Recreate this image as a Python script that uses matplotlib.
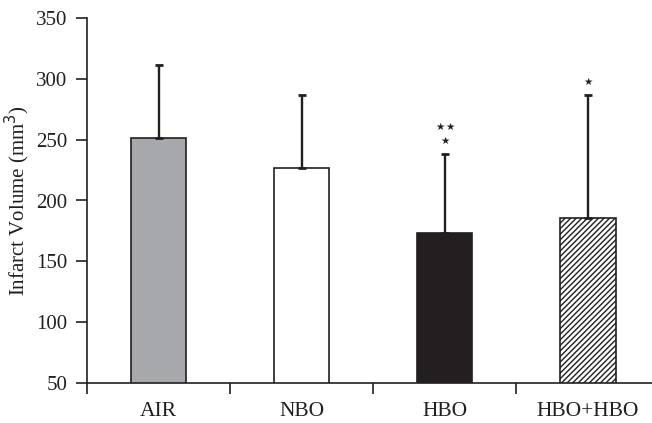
import matplotlib
matplotlib.use("Agg")
import matplotlib.pyplot as plt
import numpy as np

plt.rcParams['font.family'] = ['Liberation Serif', 'DejaVu Serif']
plt.rcParams['hatch.linewidth'] = 1.0

categories = ["AIR", "NBO", "HBO", "HBO+HBO"]
means = [251, 227, 173, 185.5]
errors = [60.5, 59.5, 65.5, 101.5]
yticks = [50, 100, 150, 200, 250, 300, 350]
# significance markers: (category index, star rows from top)
sig_marks = {2: [2, 1], 3: [1]}

ink = "#231f20"
faces = ["#a7a8ab", "white", ink, "white"]
hatches = [None, None, None, "//////"]

fig = plt.figure(figsize=(6.52, 4.23), dpi=100)
ax = fig.add_axes([87/652, 1-383/423, 1-87/652, 365/423])

x = np.arange(len(categories)) + 0.5
for xi, m, e, fc, h in zip(x, means, errors, faces, hatches):
    ax.bar(xi, m, width=0.39, color=fc, edgecolor=ink, linewidth=1.2,
           hatch=h, zorder=2)
    ax.errorbar(xi, m, yerr=[[0], [e]], fmt='none', ecolor=ink,
                elinewidth=1.7, capsize=3.0, capthick=2.0, zorder=3)

for idx, rows in sig_marks.items():
    top = means[idx] + errors[idx]
    for r, n in enumerate(reversed(rows)):
        offs = (np.arange(n) - (n - 1) / 2) * 7
        for o in offs:
            ax.annotate("★", xy=(x[idx], top), xytext=(o, 9 + r * 10.5),
                        textcoords='offset points', ha='center', va='center',
                        fontsize=7.5, color=ink, family='DejaVu Sans')

ax.set_xlim(0, 3.95)
ax.set_ylim(50, 350)
ax.set_yticks(yticks)
ax.set_xticks(np.arange(len(categories)))
ax.set_xticklabels([])
ax.set_xticks(x, minor=True)
ax.set_xticklabels(categories, minor=True)
ax.tick_params(axis='x', which='major', length=8, width=1.2, color=ink, direction='out')
ax.tick_params(axis='x', which='minor', length=0, pad=14, labelsize=15.5, labelcolor=ink)
ax.tick_params(axis='y', length=8, width=1.2, color=ink, pad=6, labelsize=15, labelcolor=ink)

for s in ['top', 'right']:
    ax.spines[s].set_visible(False)
for s in ['left', 'bottom']:
    ax.spines[s].set_color(ink)
    ax.spines[s].set_linewidth(1.2)

ax.set_ylabel("Infarct Volume (mm$^3$)", fontsize=15, color=ink, labelpad=3)

fig.savefig("out.png", dpi=100)
